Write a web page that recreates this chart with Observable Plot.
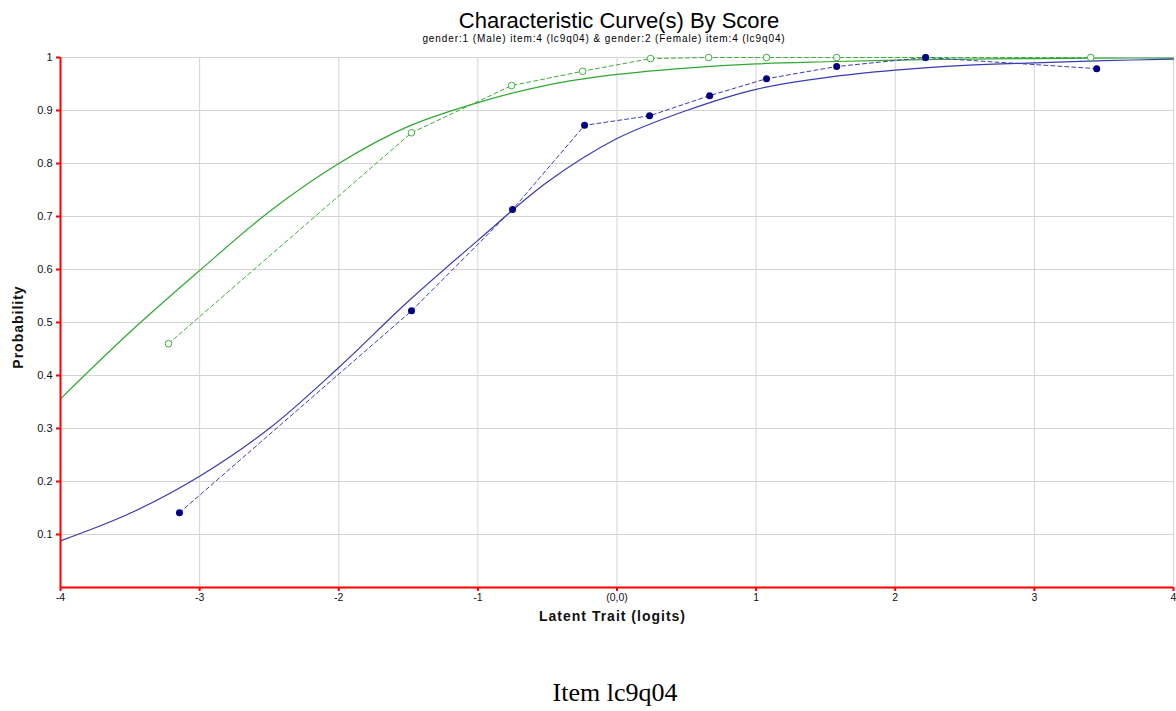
<!DOCTYPE html>
<html>
<head>
<meta charset="utf-8">
<script src="https://cdn.jsdelivr.net/npm/d3@7"></script>
<script src="https://cdn.jsdelivr.net/npm/@observablehq/plot@0.6"></script>
<style>
  html, body { margin: 0; padding: 0; background: #fff; }
  #wrap { position: relative; width: 1176px; height: 711px; overflow: hidden; font-family: "Liberation Sans", Arial, sans-serif; }
  .abs { position: absolute; white-space: nowrap; line-height: 1; }
</style>
</head>
<body>
<div id="wrap">
  <div class="abs" style="left:0;width:1238px;top:10px;text-align:center;font-size:22px;color:#000;">Characteristic Curve(s) By Score</div>
  <div class="abs" style="left:0;width:1208px;top:34px;text-align:center;font-size:10px;letter-spacing:0.9px;color:#000;">gender:1 (Male) item:4 (lc9q04) &amp; gender:2 (Female) item:4 (lc9q04)</div>
  <div class="abs" style="left:0;width:1225px;top:609px;text-align:center;font-size:14px;letter-spacing:1px;font-weight:bold;color:#111;">Latent Trait (logits)</div>
  <div class="abs" style="left:-32px;top:320px;width:100px;text-align:center;font-size:14px;letter-spacing:1px;font-weight:bold;color:#111;transform:rotate(-90deg);transform-origin:50% 50%;">Probability</div>
  <div class="abs" style="left:0;width:1230px;top:680px;text-align:center;font-size:26px;font-family:'Liberation Serif','Times New Roman',serif;color:#000;">Item lc9q04</div>
  <div id="chart"></div>
</div>
<script>
// ---- data ----
const xTicks = [-4, -3, -2, -1, 0, 1, 2, 3, 4];
const xTickLabels = ["-4", "-3", "-2", "-1", "(0,0)", "1", "2", "3", "4"];
const yTicks = [0.1, 0.2, 0.3, 0.4, 0.5, 0.6, 0.7, 0.8, 0.9, 1];
const yTickLabels = ["0.1", "0.2", "0.3", "0.4", "0.5", "0.6", "0.7", "0.8", "0.9", "1"];

// model curves (solid)
const curveX     = [-4, -3.5, -3, -2.5, -2, -1.5, -1, -0.5, 0, 0.5, 1, 1.5, 2, 2.5, 3, 3.5, 4];
const maleCurve  = [0.088, 0.14, 0.21, 0.30, 0.415, 0.54, 0.655, 0.765, 0.847, 0.90, 0.94, 0.962, 0.976, 0.985, 0.99, 0.994, 0.997];
const femaleCurve= [0.356, 0.482, 0.598, 0.709, 0.80, 0.87, 0.915, 0.948, 0.968, 0.98, 0.988, 0.992, 0.995, 0.997, 0.998, 0.999, 0.999];

// observed points (dashed)
const maleObsX   = [-3.145, -1.477, -0.751, -0.233, 0.234, 0.666, 1.075, 1.579, 2.218, 3.448];
const maleObsY   = [0.141, 0.522, 0.713, 0.872, 0.890, 0.928, 0.960, 0.983, 1.0, 0.979];
const femaleObsX = [-3.224, -1.477, -0.758, -0.247, 0.241, 0.659, 1.075, 1.579, 2.218, 3.405];
const femaleObsY = [0.460, 0.858, 0.947, 0.974, 0.998, 1.0, 1.0, 1.0, 1.0, 1.0];

const maleC   = curveX.map((x, i) => ({x, y: maleCurve[i]}));
const femaleC = curveX.map((x, i) => ({x, y: femaleCurve[i]}));
const maleO   = maleObsX.map((x, i) => ({x, y: maleObsY[i]}));
const femaleO = femaleObsX.map((x, i) => ({x, y: femaleObsY[i]}));

const chart = Plot.plot({
  width: 1176,
  height: 711,
  marginLeft: 60,
  marginRight: 3,
  marginTop: 57,
  marginBottom: 124,
  style: {fontFamily: "'Liberation Sans', Arial, sans-serif", background: "transparent"},
  x: {domain: [-4, 4]},
  y: {domain: [0, 1]},
  marks: [
    Plot.gridX(xTicks, {stroke: "#d4d4d4", strokeOpacity: 1}),
    Plot.gridY(yTicks, {stroke: "#d4d4d4", strokeOpacity: 1}),
    Plot.axisY({ticks: yTicks, tickSize: 4, stroke: "red", strokeWidth: 2, tickPadding: 4, fill: "#111", fontSize: 11,
      tickFormat: (d) => yTickLabels[yTicks.indexOf(d)], label: null}),
    Plot.axisX({ticks: xTicks, tickSize: 4, stroke: "red", strokeWidth: 2, tickPadding: 2, fill: "#111", fontSize: 10.5,
      tickFormat: (d) => xTickLabels[xTicks.indexOf(d)], label: null}),
    Plot.line(femaleC, {x: "x", y: "y", stroke: "#2fa82f", strokeWidth: 1.2, curve: "catmull-rom"}),
    Plot.line(maleC, {x: "x", y: "y", stroke: "#3a3ab4", strokeWidth: 1.2, curve: "catmull-rom"}),
    Plot.line(femaleO, {x: "x", y: "y", stroke: "#3cae3c", strokeWidth: 1, strokeDasharray: "4,3"}),
    Plot.line(maleO, {x: "x", y: "y", stroke: "#3c3cb4", strokeWidth: 1, strokeDasharray: "4,3"}),
    Plot.dot(femaleO, {x: "x", y: "y", r: 3.3, stroke: "#3cae3c", fill: "white", strokeWidth: 1}),
    Plot.dot(maleO, {x: "x", y: "y", r: 3.5, fill: "#000080", stroke: "none"}),
    Plot.ruleX([-4], {stroke: "red", strokeWidth: 2}),
    Plot.ruleY([0], {stroke: "red", strokeWidth: 2})
  ]
});
chart.style.position = "absolute";
chart.style.left = "0px";
chart.style.top = "0px";
document.getElementById("chart").appendChild(chart);
</script>
</body>
</html>
